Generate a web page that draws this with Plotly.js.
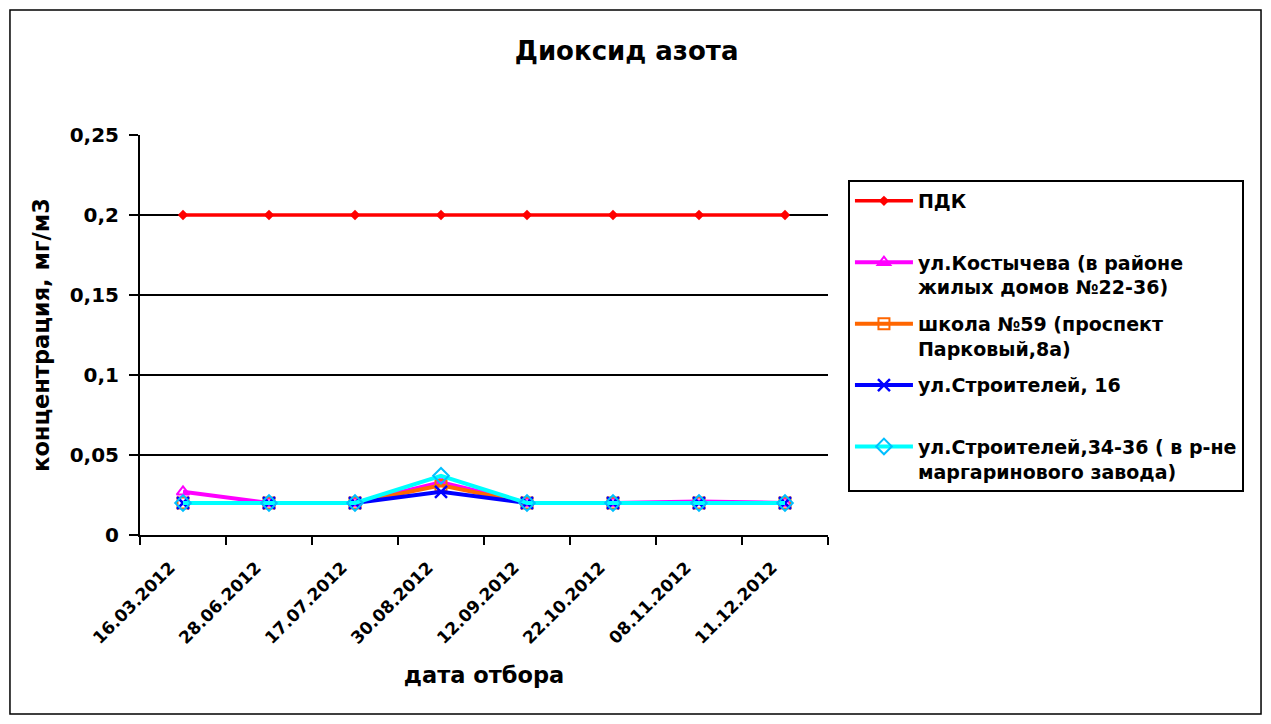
<!DOCTYPE html>
<html>
<head>
<meta charset="utf-8">
<script src="https://cdn.plot.ly/plotly-3.0.1.min.js"></script>
<style>html,body{margin:0;padding:0;background:#fff;}#chart{width:1271px;height:724px;}</style>
</head>
<body>
<div id="chart"></div>
<script>
const dates = ["16.03.2012","28.06.2012","17.07.2012","30.08.2012","12.09.2012","22.10.2012","08.11.2012","11.12.2012"];
const pdk = [0.2,0.2,0.2,0.2,0.2,0.2,0.2,0.2];
const kostycheva = [0.027,0.02,0.02,0.033,0.02,0.02,0.021,0.02];
const school59 = [0.02,0.02,0.02,0.031,0.02,0.02,0.02,0.02];
const stroitelei16 = [0.02,0.02,0.02,0.027,0.02,0.02,0.02,0.02];
const stroitelei3436 = [0.02,0.02,0.02,0.037,0.02,0.02,0.02,0.02];

const names = ["ПДК<br> ","ул.Костычева (в районе<br>жилых домов №22-36)","школа №59 (проспект<br>Парковый,8а)","ул.Строителей, 16<br> ","ул.Строителей,34-36 ( в р-не<br>маргаринового завода)"];

const traces = [
  {x:dates,y:pdk,name:names[0],legendgroup:"a",mode:"lines+markers",
   line:{color:"#FF0000",width:3.5},marker:{symbol:"diamond",size:8,color:"#FF0000"}},
  {x:dates,y:kostycheva,name:names[1],legendgroup:"b",mode:"lines+markers",
   line:{color:"#FF00FF",width:4},marker:{symbol:"triangle-up-open",size:11,color:"#FF00FF",line:{width:2,color:"#FF00FF"}}},
  {x:dates,y:school59,name:names[2],legendgroup:"c",mode:"lines+markers",
   line:{color:"#FF6600",width:4},marker:{symbol:"square-open",size:11,color:"#FF6600",line:{width:2,color:"#FF6600"}}},
  {x:dates,y:stroitelei16,name:names[3],legendgroup:"d",mode:"lines+markers",
   line:{color:"#0000FF",width:4},marker:{symbol:"x-thin-open",size:12,color:"#0000FF",line:{width:2.5,color:"#0000FF"}}},
  {x:dates,y:stroitelei3436,name:names[4],legendgroup:"e",mode:"lines+markers",
   line:{color:"#00FFFF",width:4},marker:{symbol:"diamond-open",size:12,color:"#00BFFF",line:{width:2,color:"#00B0F0"}}}
];

const font = {family:"'DejaVu Sans', Arial, sans-serif", color:"#000", weight:"bold"};
function f(size){ return Object.assign({size:size}, font); }
const layout = {
  width:1271, height:724,
  paper_bgcolor:"#fff", plot_bgcolor:"#fff",
  separators:", ",
  margin:{l:140,r:443,t:135,b:189},
  font:f(16),
  title:{text:"Диоксид азота", font:f(26),
    x:0.493, xref:"container", y:0.930, yref:"container", xanchor:"center", yanchor:"middle"},
  xaxis:{type:"category", tickson:"boundaries", ticks:"outside", ticklen:8, tickwidth:2, tickcolor:"#000",
    showline:true, linecolor:"#000", linewidth:2, showgrid:false, zeroline:false,
    tickangle:-45, tickfont:f(17), ticklabelstandoff:14, ticklabelshift:-13,
    range:[-0.5,7.5],
    title:{text:"дата отбора", font:f(22.5), standoff:20}},
  yaxis:{range:[0,0.25], dtick:0.05, tick0:0, ticks:"outside", ticklen:9, tickwidth:2, tickcolor:"#000",
    showline:true, linecolor:"#000", linewidth:2, showgrid:true, gridcolor:"#000", gridwidth:2, zeroline:false,
    tickfont:f(20), ticklabelstandoff:6,
    title:{text:"концентрация, мг/м3", font:f(22.5), standoff:14}},
  legend:{x:1.029, y:0.8875, xanchor:"left", yanchor:"top", bordercolor:"#000", borderwidth:2,
    bgcolor:"#fff", valign:"top", tracegroupgap:9, traceorder:"grouped", itemwidth:58,
    font:f(19)},
  shapes:[{type:"rect", xref:"paper", yref:"paper", x0:-0.189, x1:1.6294, y0:-0.4475, y1:1.3125,
    line:{color:"#000", width:1.5}, fillcolor:"rgba(0,0,0,0)", layer:"below"}],
  showlegend:true
};
Plotly.newPlot("chart", traces, layout, {displayModeBar:false, staticPlot:true});
</script>
</body>
</html>
